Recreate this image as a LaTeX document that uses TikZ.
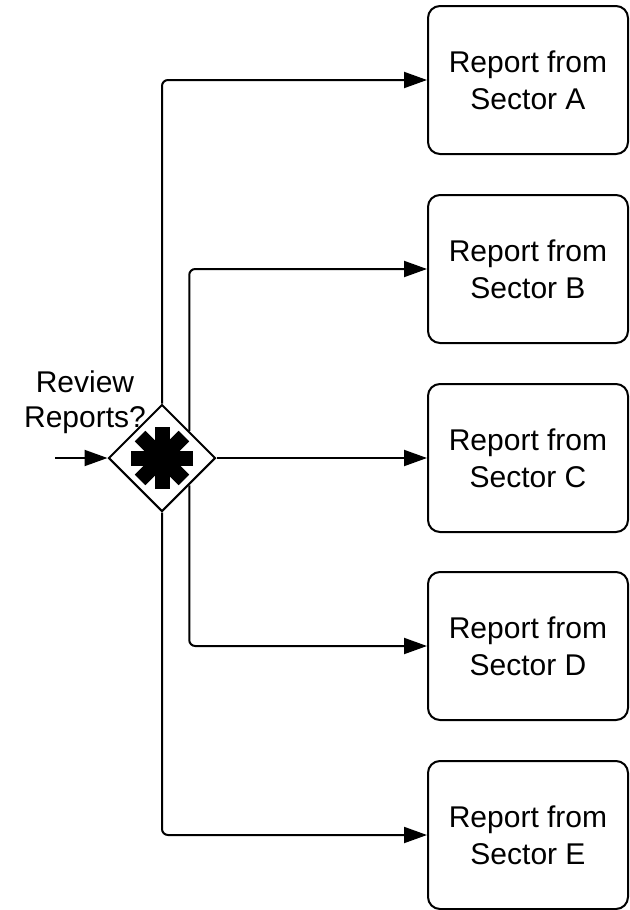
\documentclass[tikz,border=0pt]{standalone}
\usepackage{fontspec}
\setmainfont{Liberation Sans}
\usetikzlibrary{arrows.meta,calc,shapes.geometric}
\definecolor{ink}{HTML}{000000}

\begin{document}
\begin{tikzpicture}[x=1pt,y=-1pt,line width=2pt,draw=ink,text=ink,
    >={Triangle[length=23pt,width=16pt]},
    report/.style={draw,rounded corners=12pt,minimum width=200pt,
      minimum height=148pt,align=center,inner sep=0pt,
      font=\fontsize{30}{37}\selectfont},
    flow/.style={->,rounded corners=6pt}]
  \useasboundingbox (0,0) rectangle (629,910);

  % gateway
  \node[diamond,draw,minimum width=107pt,minimum height=107pt,
        inner sep=0pt] (gw) at (162,458) {};
  \foreach \a in {0,45,90,135}
    \draw[line width=15pt] ($(gw)+(\a:31)$) -- ($(gw)+(\a+180:31)$);
  \node[align=center,font=\fontsize{30}{35}\selectfont] (q) at (85,402)
    {Review\\Reports?};
  \coordinate (in) at (55,458);
  \draw[->] (in) -- (gw.west);

  % reports
  \node[report] (repA) at (528,80)  {Report from\\Sector A};
  \node[report] (repB) at (528,269) {Report from\\Sector B};
  \node[report] (repC) at (528,458) {Report from\\Sector C};
  \node[report] (repD) at (528,646) {Report from\\Sector D};
  \node[report] (repE) at (528,835) {Report from\\Sector E};

  \draw[flow] (gw.north) |- (repA.west);
  \draw[flow] (gw.north east) |- (repB.west);
  \draw[flow] (gw.east) -- (repC.west);
  \draw[flow] (gw.south east) |- (repD.west);
  \draw[flow] (gw.south) |- (repE.west);
\end{tikzpicture}
\end{document}
